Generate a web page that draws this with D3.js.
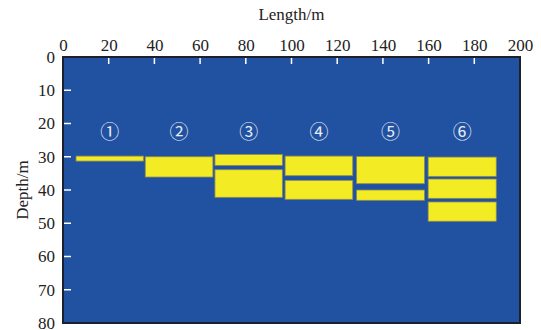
<!DOCTYPE html>
<html>
<head>
<meta charset="utf-8">
<script src="https://cdn.jsdelivr.net/npm/d3@7"></script>
<style>
  body { margin: 0; background: #fff; }
</style>
</head>
<body>
<div id="chart"></div>
<script>
const width = 541, height = 330,
    margin = ({ top: 57, right: 21, bottom: 7, left: 63 });
const serif = "Liberation Serif, Times New Roman, serif";

// zone labels and horizontal extents (m)
const zones = ["①", "②", "③", "④", "⑤", "⑥"];
const zoneX0 = [5.7, 36, 66.5, 97.2, 128.5, 159.8];
const zoneX1 = [35.2, 65.6, 96, 126.8, 158.2, 189.6];
// layers per zone: [zone index, top depth, bottom depth]
const layers = [
  [0, 29.8, 31.3],
  [1, 30, 36.1],
  [2, 29.3, 32.6], [2, 33.9, 42.2],
  [3, 29.8, 35.7], [3, 37.1, 42.8],
  [4, 29.9, 38.1], [4, 40, 43.1],
  [5, 30.1, 35.9], [5, 36.7, 42.5], [5, 43.6, 49.4]
];
const labelDepth = 22.5;
const xTicks = [0, 20, 40, 60, 80, 100, 120, 140, 160, 180, 200];
const yTicks = [0, 10, 20, 30, 40, 50, 60, 70, 80];

const svg = d3.select("#chart")
  .append("svg")
  .attr("width", width)
  .attr("height", height);

let x = d3.scaleLinear()
  .domain([0, 200])
  .range([margin.left, width - margin.right]);

let y = d3.scaleLinear()
  .domain([0, 80])
  .range([margin.top, height - margin.bottom]);

// background
svg.append("rect")
  .attr("x", x(0))
  .attr("y", y(0))
  .attr("width", x(200) - x(0))
  .attr("height", y(80) - y(0))
  .attr("fill", "#2151a1");

// layers
svg.append("g")
  .selectAll("rect")
  .data(layers)
  .join("rect")
    .attr("x", d => x(zoneX0[d[0]]))
    .attr("y", d => y(d[1]))
    .attr("width", d => x(zoneX1[d[0]]) - x(zoneX0[d[0]]))
    .attr("height", d => y(d[2]) - y(d[1]))
    .attr("fill", "#f3eb23")
    .attr("stroke", "#8d8c55")
    .attr("stroke-width", 0.8);

// zone numbers
svg.append("g")
  .selectAll("text")
  .data(zones)
  .join("text")
    .attr("x", (d, i) => x((zoneX0[i] + zoneX1[i]) / 2))
    .attr("y", y(labelDepth))
    .attr("dy", "0.36em")
    .attr("text-anchor", "middle")
    .attr("fill", "#e8ecf4")
    .attr("font-family", "Noto Sans CJK SC")
    .attr("font-size", 19)
    .text(d => d);

// axes
const xAxis = svg.append("g")
  .attr("transform", `translate(0,${y(0)})`)
  .call(d3.axisTop(x).tickValues(xTicks).tickSize(0).tickPadding(6));
xAxis.select(".domain").remove();
xAxis.attr("font-family", serif).attr("font-size", 17);
xAxis.selectAll("text").attr("fill", "#222");

svg.append("g")
  .selectAll("line")
  .data(xTicks.slice(1, -1))
  .join("line")
    .attr("x1", d => x(d)).attr("x2", d => x(d))
    .attr("y1", y(0)).attr("y2", y(0) + 7)
    .attr("stroke", "#fff")
    .attr("stroke-width", 1.5);

const yAxis = svg.append("g")
  .attr("transform", `translate(${x(0)},0)`)
  .call(d3.axisLeft(y).tickValues(yTicks).tickSize(0).tickPadding(8));
yAxis.select(".domain").remove();
yAxis.attr("font-family", serif).attr("font-size", 17);
yAxis.selectAll("text").attr("fill", "#222");

svg.append("g")
  .selectAll("line")
  .data(yTicks.slice(1, -1))
  .join("line")
    .attr("x1", x(0)).attr("x2", x(0) + 8)
    .attr("y1", d => y(d)).attr("y2", d => y(d))
    .attr("stroke", "#fff")
    .attr("stroke-width", 1.5);

// frame
svg.append("rect")
  .attr("x", x(0))
  .attr("y", y(0))
  .attr("width", x(200) - x(0))
  .attr("height", y(80) - y(0))
  .attr("fill", "none")
  .attr("stroke", "#1c1f2e")
  .attr("stroke-width", 2);

svg.append("text")
  .attr("x", x(100))
  .attr("y", 20)
  .attr("text-anchor", "middle")
  .attr("font-family", serif)
  .attr("font-size", 17)
  .attr("fill", "#222")
  .text("Length/m");

svg.append("text")
  .attr("transform", `translate(28,${y(40)}) rotate(-90)`)
  .attr("text-anchor", "middle")
  .attr("font-family", serif)
  .attr("font-size", 17)
  .attr("fill", "#222")
  .text("Depth/m");
</script>
</body>
</html>
